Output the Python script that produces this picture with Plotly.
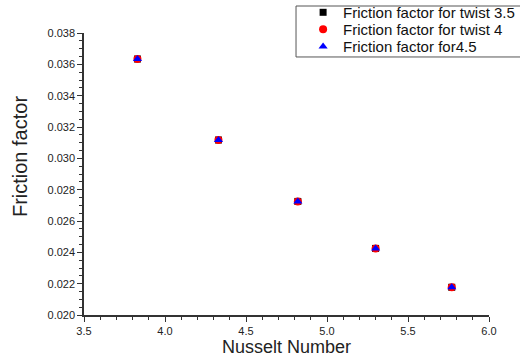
import plotly.graph_objects as go

nusselt = [3.83, 4.33, 4.82, 5.30, 5.77]
f_twist35 = [0.03634, 0.03117, 0.02725, 0.02425, 0.02177]
f_twist4 = [0.03634, 0.03117, 0.02725, 0.02425, 0.02177]
f_twist45 = [0.03634, 0.03117, 0.02725, 0.02425, 0.02177]
names = ["Friction factor for twist 3.5", "Friction factor for twist 4", "Friction factor for4.5"]

fig = go.Figure()
fig.add_trace(go.Scatter(x=nusselt, y=f_twist35, mode="markers", name=names[0], legend="legend",
                         marker=dict(symbol="square", size=7, color="black")))
fig.add_trace(go.Scatter(x=nusselt, y=f_twist4, mode="markers", name=names[1], legend="legend2",
                         marker=dict(symbol="circle", size=8, color="red")))
fig.add_trace(go.Scatter(x=nusselt, y=f_twist45, mode="markers", name=names[2], legend="legend3",
                         marker=dict(symbol="triangle-up", size=8, color="blue")))

axis_common = dict(showgrid=False, zeroline=False, showline=True, linecolor="#333",
                   linewidth=1.5, ticks="outside", ticklen=5, tickwidth=1, tickcolor="#333",
                   tickfont=dict(family="Liberation Sans, Arial", size=11, color="#222"),
                   minor=dict(ticks="outside", ticklen=3, tickcolor="#333"))

leg_font = dict(size=15, family="Liberation Sans, Arial", color="#111")
leg_common = dict(x=0.541, xanchor="left", yanchor="middle", bgcolor="rgba(0,0,0,0)",
                  borderwidth=0, font=leg_font)

fig.update_layout(
    width=520, height=360,
    margin=dict(l=84, r=31, t=33, b=45, autoexpand=False),
    paper_bgcolor="white", plot_bgcolor="white",
    font=dict(family="Liberation Sans, Arial", color="#222"),
    xaxis=dict(range=[3.5, 6.0], dtick=0.5, tickformat=".1f",
               title=dict(text="Nusselt Number", font=dict(size=18), standoff=4),
               **axis_common),
    yaxis=dict(range=[0.020, 0.038], dtick=0.002, tickformat=".3f",
               **axis_common),
    annotations=[dict(text="Friction factor", xref="paper", yref="paper",
                      x=-0.158, y=0.56, xanchor="center", yanchor="middle",
                      textangle=-90, showarrow=False,
                      font=dict(size=20, family="Liberation Sans, Arial", color="#222"))],
    shapes=[dict(type="rect", xref="paper", yref="paper",
                 x0=0.5235, x1=1.08, y0=0.915, y1=1.0957,
                 line=dict(color="#555", width=1), fillcolor="white", layer="above")],
    legend=dict(y=1.0725, **leg_common),
    legend2=dict(y=1.0120, **leg_common),
    legend3=dict(y=0.9515, **leg_common),
    showlegend=True,
)

fig.write_html("out.html", config={"displayModeBar": False},
               post_script="document.body.style.margin='0';")
